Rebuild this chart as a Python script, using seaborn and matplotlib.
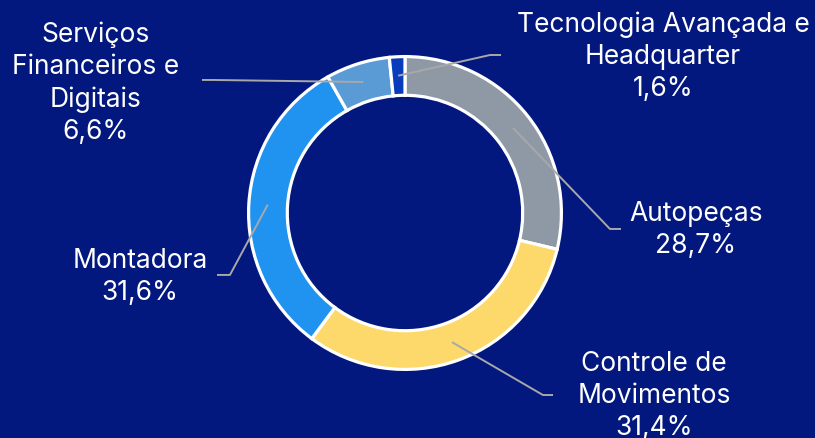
import matplotlib
matplotlib.use("Agg")
import numpy as np
import matplotlib.pyplot as plt
import seaborn as sns

# segment data, clockwise from 12 o'clock
segments = ["Autopeças", "Controle de\nMovimentos", "Montadora",
            "Serviços\nFinanceiros e\nDigitais", "Tecnologia Avançada e\nHeadquarter"]
shares = [28.7, 31.4, 31.6, 6.6, 1.6]
share_labels = ["28,7%", "31,4%", "31,6%", "6,6%", "1,6%"]
colors = ["#8f99a5", "#fdd96b", "#2093f0", "#5a9ad5", "#083cbb"]

# label layout (data units, ring outer radius = 1)
label_pos = [(1.842, -0.101), (1.576, -1.152), (-1.677, -0.399),
             (-1.956, 0.829), (1.633, 0.994)]
elbow_pos = [(1.297, -0.101), (0.873, -1.152), (-1.108, -0.392),
             (-1.215, 0.842), (0.538, 1.0)]
end_pos = [(1.367, -0.101), (0.937, -1.152), (-1.190, -0.392),
           (-1.285, 0.842), (0.608, 1.0)]

bg = "#03187e"

sns.set_theme(style="white", rc={"figure.facecolor": bg, "axes.facecolor": bg})
plt.rcParams["font.family"] = ["Inter", "DejaVu Sans"]

fig = plt.figure(figsize=(8.15, 4.39), dpi=100)
ax = fig.add_axes([0, 0, 1, 1])
ax.set_facecolor(bg)

wedges, _ = ax.pie(shares, colors=colors, startangle=90, counterclock=False,
                   radius=0.99,
                   wedgeprops=dict(width=0.245, edgecolor="white", linewidth=2.3))

for i, w in enumerate(wedges):
    ang = np.deg2rad((w.theta1 + w.theta2) / 2)
    r = 0.87
    sx, sy = r * np.cos(ang), r * np.sin(ang)
    ex, ey = elbow_pos[i]
    fx, fy = end_pos[i]
    ax.plot([sx, ex, fx], [sy, ey, fy], color="#a8a8a8", lw=1.4,
            solid_capstyle="butt", zorder=5)
    lx, ly = label_pos[i]
    ax.text(lx, ly, segments[i] + "\n" + share_labels[i], ha="center",
            va="center", color="white", fontsize=19, linespacing=1.3)

ax.set_aspect("equal")
ax.set_xlim(-405 / 158, 410 / 158)
ax.set_ylim(-225 / 158, 214 / 158)
ax.axis("off")

fig.savefig("out.png", dpi=100, facecolor=bg)
